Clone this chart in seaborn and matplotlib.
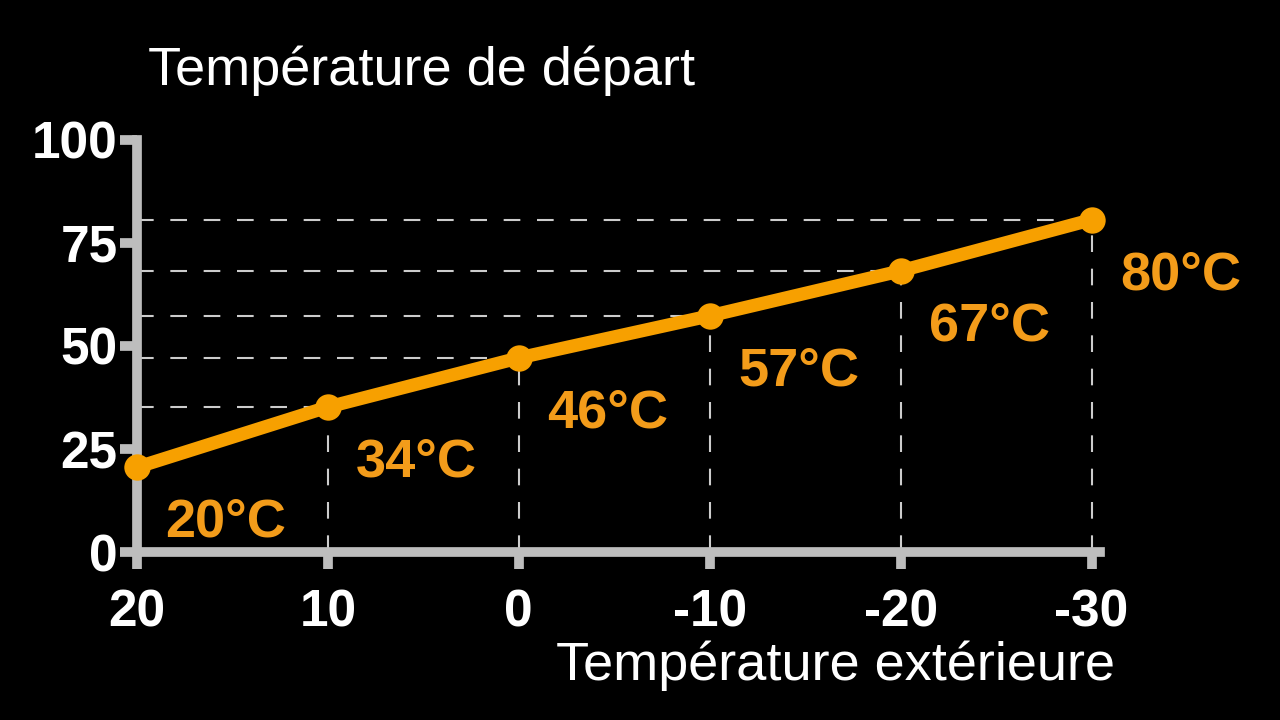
import matplotlib
matplotlib.use("Agg")
import matplotlib.pyplot as plt
import pandas as pd
import seaborn as sns

# values
outdoor = [20, 10, 0, -10, -20, -30]
supply = [20.6, 35.2, 47.1, 57.3, 68.2, 80.6]
labels = ['20°C', '34°C', '46°C', '57°C', '67°C', '80°C']
yticks = [0, 25, 50, 75, 100]

df = pd.DataFrame({'ext': outdoor, 'dep': supply})

orange = '#F7A000'
text_orange = '#F39C1A'
grey = '#BDBDBD'

sns.set_style('dark', {'axes.facecolor': 'black', 'figure.facecolor': 'black'})
plt.rcParams['font.family'] = ['Liberation Sans', 'DejaVu Sans']
plt.rcParams['axes.unicode_minus'] = False

fig = plt.figure(figsize=(12.8, 7.2), dpi=100)
ax = fig.add_axes([0.107, 0.233, 0.752, 0.573])

# guide lines from each point back to the axes
for x, y in zip(outdoor[1:], supply[1:]):
    ax.plot([20, x], [y, y], color='#CCCCCC', lw=1.5, ls=(0, (8, 8)), zorder=1)
    ax.plot([x, x], [0, y], color='#CCCCCC', lw=1.5, ls=(0, (8, 8)), zorder=1)

sns.lineplot(data=df, x='ext', y='dep', ax=ax, color=orange, lw=9.5,
             marker='o', markersize=19, markeredgewidth=0, zorder=3, clip_on=False)

for x, y, t in zip(outdoor, supply, labels):
    ax.annotate(t, (x, y), xytext=(64, -40), textcoords='offset points',
                ha='center', va='center', color=text_orange, fontsize=39, fontweight='bold')

ax.set_xlim(20, -30.42)
ax.set_ylim(0, 100)
ax.set_xticks(outdoor)
ax.set_yticks(yticks)
ax.grid(False)
for s in ['top', 'right']:
    ax.spines[s].set_visible(False)
for s in ['left', 'bottom']:
    ax.spines[s].set_color(grey)
    ax.spines[s].set_linewidth(7)
ax.tick_params(bottom=True, left=True, colors=grey, width=7, length=12,
               labelcolor='white', labelsize=37)
ax.tick_params(axis='x', pad=14)
ax.tick_params(axis='y', pad=2)
for lb in ax.get_xticklabels() + ax.get_yticklabels():
    lb.set_fontweight('bold')
ax.set_xlabel('')
ax.set_ylabel('')

fig.text(148 / 1280, 1 - 85 / 720, 'Température de départ', color='white',
         fontsize=39, ha='left', va='baseline')
fig.text(1115 / 1280, 1 - 680 / 720, 'Température extérieure', color='white',
         fontsize=39, ha='right', va='baseline')

fig.savefig('out.png', dpi=100, facecolor='black')
